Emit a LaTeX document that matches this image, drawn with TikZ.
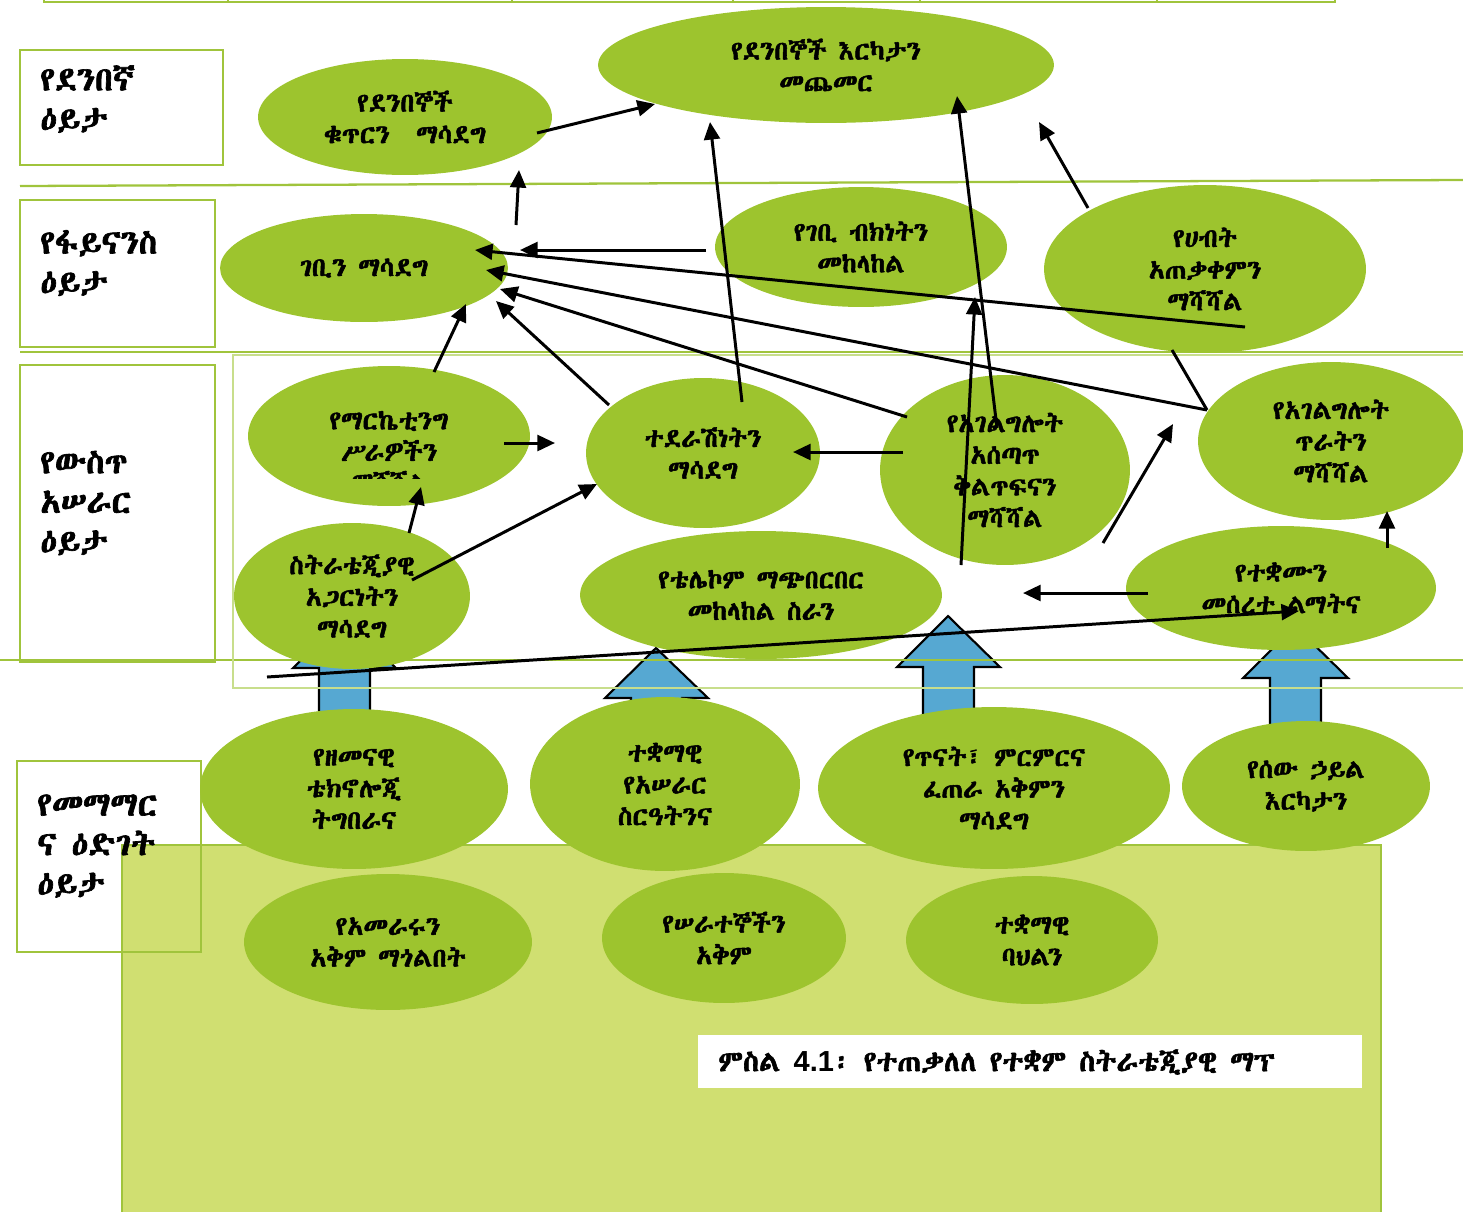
\documentclass[tikz,border=0pt]{standalone}
\usepackage{fontspec}
\IfFontExistsTF{Abyssinica SIL}
 {\setmainfont{Abyssinica SIL}[BoldFont={Abyssinica SIL},BoldFeatures={FakeBold=2}]}
 {\setmainfont{FreeSerif.otf}[BoldFont=FreeSerif.otf,BoldFeatures={FakeBold=2}]}
\newfontfamily\latfont{Liberation Sans}
\usetikzlibrary{shapes.geometric,arrows.meta}
\definecolor{ellg}{RGB}{157,196,46}
\definecolor{lineg}{RGB}{160,196,60}
\definecolor{lightg}{RGB}{200,222,140}
\definecolor{bgg}{RGB}{208,223,113}
\definecolor{blockb}{RGB}{86,168,210}
\tikzset{
 ell/.style={ellipse, fill=ellg, inner sep=0pt, align=center, font=\fontsize{15}{18}\selectfont\bfseries},
 esize/.style 2 args={minimum width=#1*0.04cm, minimum height=#2*0.04cm},
 rowbox/.style={draw=lineg, line width=1.3pt, fill=white},
 rowtext/.style={align=left, anchor=west, inner sep=0pt, font=\fontsize{19}{22.5}\selectfont\bfseries},
 gline/.style={draw=lineg, line width=1.3pt},
 blk/.style={fill=blockb, draw=black, line width=1.2pt},
 arr/.style={line width=1.7pt, -{Triangle[length=10pt,width=9pt]}},
 lnk/.style={line width=1.7pt},
}
\begin{document}
\begin{tikzpicture}[x=0.02cm,y=-0.02cm]
\useasboundingbox (0,0) rectangle (1463,1211);
% top strip
\draw[gline] (44,-10) rectangle (1335,2);
\foreach \xx in {228,512,733,920,1157} {\draw[draw=lineg, line width=0.6pt] (\xx,-10) -- (\xx,2);}
% row boxes
\draw[rowbox] (20,50) rectangle (223,165);
\draw[rowbox] (20,200) rectangle (215,347);
\draw[rowbox] (20,365) rectangle (215,662);
\fill[white] (17,761) rectangle (201,952);
% learning background
\draw[fill=bgg, draw=lineg, line width=0.8pt] (122,845) rectangle (1381,1230);
\draw[rowbox, fill=none] (17,761) rectangle (201,952);
\node[rowtext] (r1) at (40,99) {የደንበኛ\\ዕይታ};
\node[rowtext] (r2) at (40,263) {የፋይናንስ\\ዕይታ};
\node[rowtext] (r3) at (40,503) {የውስጥ\\አሠራር\\ዕይታ};
\node[rowtext] (r4) at (37,846) {የመማማር\\ና ዕድገት\\ዕይታ};
% blue block arrows
\draw[blk] (319,725) -- (319,668) -- (293,668) -- (344,618) -- (396,668) -- (370,668) -- (370,725) -- cycle;
\draw[blk] (631,740) -- (631,698) -- (605,698) -- (656,648) -- (708,698) -- (682,698) -- (682,740) -- cycle;
\draw[blk] (923,725) -- (923,667) -- (897,667) -- (948,616) -- (1000,667) -- (974,667) -- (974,725) -- cycle;
\draw[blk] (1270,740) -- (1270,678) -- (1243,678) -- (1295,626) -- (1348,678) -- (1321,678) -- (1321,740) -- cycle;
% green lines
\draw[gline] (20,186) -- (1463,180);
\draw[gline] (20,352) -- (1463,352);
\draw[gline] (0,660) -- (1463,660);
\draw[draw=lightg, line width=1.2pt] (233,355) rectangle (1475,688);
% ellipses
\node[ell, esize={147}{58}] (A) at (405,117) {የደንበኞች\\ቁጥርን\quad ማሳደግ};
\node[ell, esize={228}{58}] (B) at (826,65) {የደንበኞች እርካታን\\መጨመር};
\node[ell, esize={144}{54}] (C) at (364,268) {ገቢን ማሳደግ};
\node[ell, esize={146}{60}] (D) at (861,247) {የገቢ ብክነትን\\መከላከል};
\node[ell, esize={161}{84}] (E) at (1205,269) {የሀብት\\አጠቃቀምን\\ማሻሻል};
\node[ell, esize={141}{70}] (F) at (389,436) {የማርኬቲንግ\\ሥራዎችን};
\begin{scope}
\clip (250,440) rectangle (530,478);
\node[ell, fill=none] (F3) at (389,481) {ማሻሻል};
\end{scope}
\node[ell, esize={118}{73}] (G) at (352,596) {ስትራቴጂያዊ\\አጋርነትን\\ማሳደግ};
\node[ell, esize={117}{75}] (H) at (703,453) {ተደራሽነትን\\ማሳደግ};
\node[ell, esize={125}{95}] (I) at (1005,470) {የአገልግሎት\\አሰጣጥ\\ቅልጥፍናን\\ማሻሻል};
\node[ell, esize={133}{79}] (J) at (1331,441) {የአገልግሎት\\ጥራትን\\ማሻሻል};
\node[ell, esize={181}{64}] (K) at (761,595) {የቴሌኮም ማጭበርበር\\መከላከል ስራን};
\node[ell, esize={155}{62}] (L) at (1281,588) {የተቋሙን\\መሰረተ ልማትና};
\node[ell, esize={154}{80}] (M) at (354,789) {የዘመናዊ\\ቴክኖሎጂ\\ትግበራና};
\node[ell, esize={135}{87}] (N) at (665,784) {ተቋማዊ\\የአሠራር\\ስርዓትንና};
\node[ell, esize={176}{81}] (O) at (994,788) {የጥናት፣ ምርምርና\\ፈጠራ አቅምን\\ማሳደግ};
\node[ell, esize={124}{65}] (P) at (1306,786) {የሰው ኃይል\\እርካታን};
\node[ell, esize={144}{68}] (Q) at (388,942) {የአመራሩን\\አቅም ማጎልበት};
\node[ell, esize={122}{65}] (R) at (724,938) {የሠራተኞችን\\አቅም};
\node[ell, esize={126}{64}] (S) at (1032,940) {ተቋማዊ\\ባህልን};
% caption
\fill[white] (698,1035) rectangle (1362,1088);
\node[anchor=west, inner sep=0pt, font=\fontsize{16.5}{20}\selectfont\bfseries] (cap) at (718,1062) {ምስል {\latfont 4.1}፡ የተጠቃለለ የተቋም ስትራቴጂያዊ ማፕ};
% connector end points
\coordinate (AtoB1) at (537,133); \coordinate (AtoB2) at (655,104);
\coordinate (CtoA1) at (516,225); \coordinate (CtoA2) at (519,170);
\coordinate (DtoC1) at (706,250); \coordinate (DtoC2) at (520,250);
\coordinate (EtoC1) at (1245,327); \coordinate (EtoC2) at (475,250);
\coordinate (JtoC1) at (1207,410); \coordinate (JtoC2) at (486,270);
\coordinate (EJ) at (1172,350);
\coordinate (EtoB1) at (1088,208); \coordinate (EtoB2) at (1039,122);
\coordinate (ItoC1) at (907,417); \coordinate (ItoC2) at (500,289);
\coordinate (HtoC1) at (609,405); \coordinate (HtoC2) at (496,301);
\coordinate (FtoC1) at (434,372); \coordinate (FtoC2) at (466,304);
\coordinate (HtoB1) at (742,402); \coordinate (HtoB2) at (710,122);
\coordinate (ItoB1) at (997,428); \coordinate (ItoB2) at (957,96);
\coordinate (KtoD1) at (961,565); \coordinate (KtoD2) at (975,297);
\coordinate (FtoH1) at (504,443); \coordinate (FtoH2) at (555,443);
\coordinate (GtoF1) at (409,533); \coordinate (GtoF2) at (421,487);
\coordinate (GtoH1) at (412,580); \coordinate (GtoH2) at (597,484);
\coordinate (ItoH1) at (903,452); \coordinate (ItoH2) at (793,452);
\coordinate (ItoJ1) at (1103,543); \coordinate (ItoJ2) at (1173,424);
\coordinate (Lout1) at (1148,593); \coordinate (Lout2) at (1023,593);
\coordinate (LtoJ1) at (1387,548); \coordinate (LtoJ2) at (1387,511);
\coordinate (toL1) at (267,677); \coordinate (toL2) at (1299,611);
% connectors
\draw[arr] (AtoB1) -- (AtoB2);
\draw[arr] (CtoA1) -- (CtoA2);
\draw[arr] (DtoC1) -- (DtoC2);
\draw[arr] (EtoC1) -- (EtoC2);
\draw[arr] (JtoC1) -- (JtoC2);
\draw[lnk] (JtoC1) -- (EJ);
\draw[arr] (EtoB1) -- (EtoB2);
\draw[arr] (ItoC1) -- (ItoC2);
\draw[arr] (HtoC1) -- (HtoC2);
\draw[arr] (FtoC1) -- (FtoC2);
\draw[arr] (HtoB1) -- (HtoB2);
\draw[arr] (ItoB1) -- (ItoB2);
\draw[arr] (KtoD1) -- (KtoD2);
\draw[arr] (FtoH1) -- (FtoH2);
\draw[arr] (GtoF1) -- (GtoF2);
\draw[arr] (GtoH1) -- (GtoH2);
\draw[arr] (ItoH1) -- (ItoH2);
\draw[arr] (ItoJ1) -- (ItoJ2);
\draw[arr] (Lout1) -- (Lout2);
\draw[arr] (LtoJ1) -- (LtoJ2);
\draw[arr] (toL1) -- (toL2);
\end{tikzpicture}
\end{document}
